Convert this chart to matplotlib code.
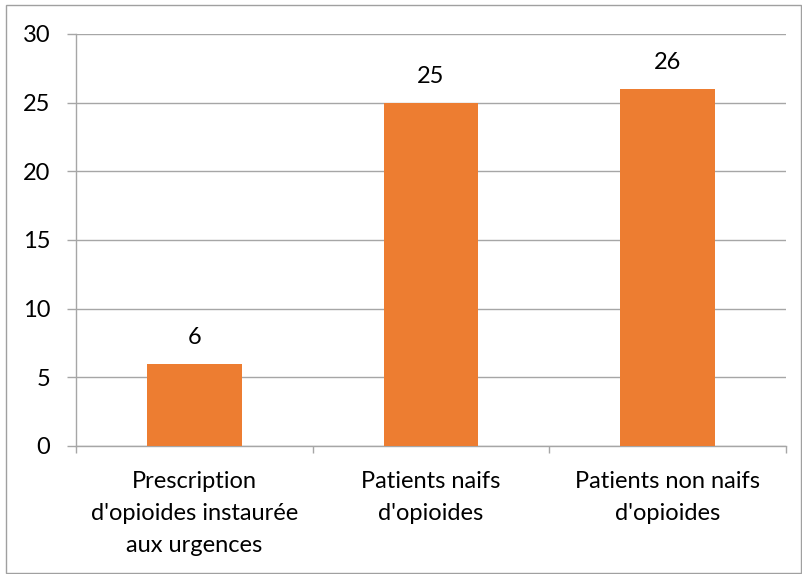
import matplotlib.pyplot as plt
from matplotlib.patches import Rectangle

categories = ["Prescription\nd'opioides instaurée\naux urgences",
              "Patients naifs\nd'opioides",
              "Patients non naifs\nd'opioides"]
values = [6, 25, 26]
yticks = [0, 5, 10, 15, 20, 25, 30]

plt.rcParams['font.family'] = ['Lato', 'DejaVu Sans']

W, H = 803, 574
fig = plt.figure(figsize=(W / 100, H / 100), dpi=100, facecolor='white')
ax = fig.add_axes([76 / W, (H - 446) / H, (786 - 76) / W, (446 - 34) / H])

grid_c = '#a6a6a6'
fs = 17
bars = ax.bar(range(len(values)), values, width=0.4, color='#ed7d31', zorder=3)
for i, v in enumerate(values):
    ax.annotate(str(v), (i, v), xytext=(0, 19), textcoords='offset points',
                ha='center', va='center', fontsize=fs, color='#000000')

ax.set_xlim(-0.5, len(values) - 0.5)
ax.set_ylim(0, 30)
ax.set_yticks(yticks)
ax.yaxis.grid(True, color=grid_c, linewidth=1, zorder=0)
ax.tick_params(axis='y', length=6.5, color=grid_c, width=1, pad=12, labelsize=fs)

ax.set_xticks(range(len(values)))
ax.set_xticklabels(categories, fontsize=fs, linespacing=1.65)
ax.set_xticks([-0.5, 0.5, 1.5, 2.5], minor=True)
ax.tick_params(axis='x', which='major', length=0, pad=18)
ax.tick_params(axis='x', which='minor', length=5, color=grid_c, width=1)

for s in ['top', 'right']:
    ax.spines[s].set_visible(False)
for s in ['left', 'bottom']:
    ax.spines[s].set_color(grid_c)
    ax.spines[s].set_linewidth(1)

fig.patches.append(Rectangle((6.5 / W, 1.5 / H), 795 / W, 568 / H, transform=fig.transFigure,
                             fill=False, edgecolor='#a0a0a0', linewidth=1))

fig.savefig('out.png', dpi=100, facecolor='white')
